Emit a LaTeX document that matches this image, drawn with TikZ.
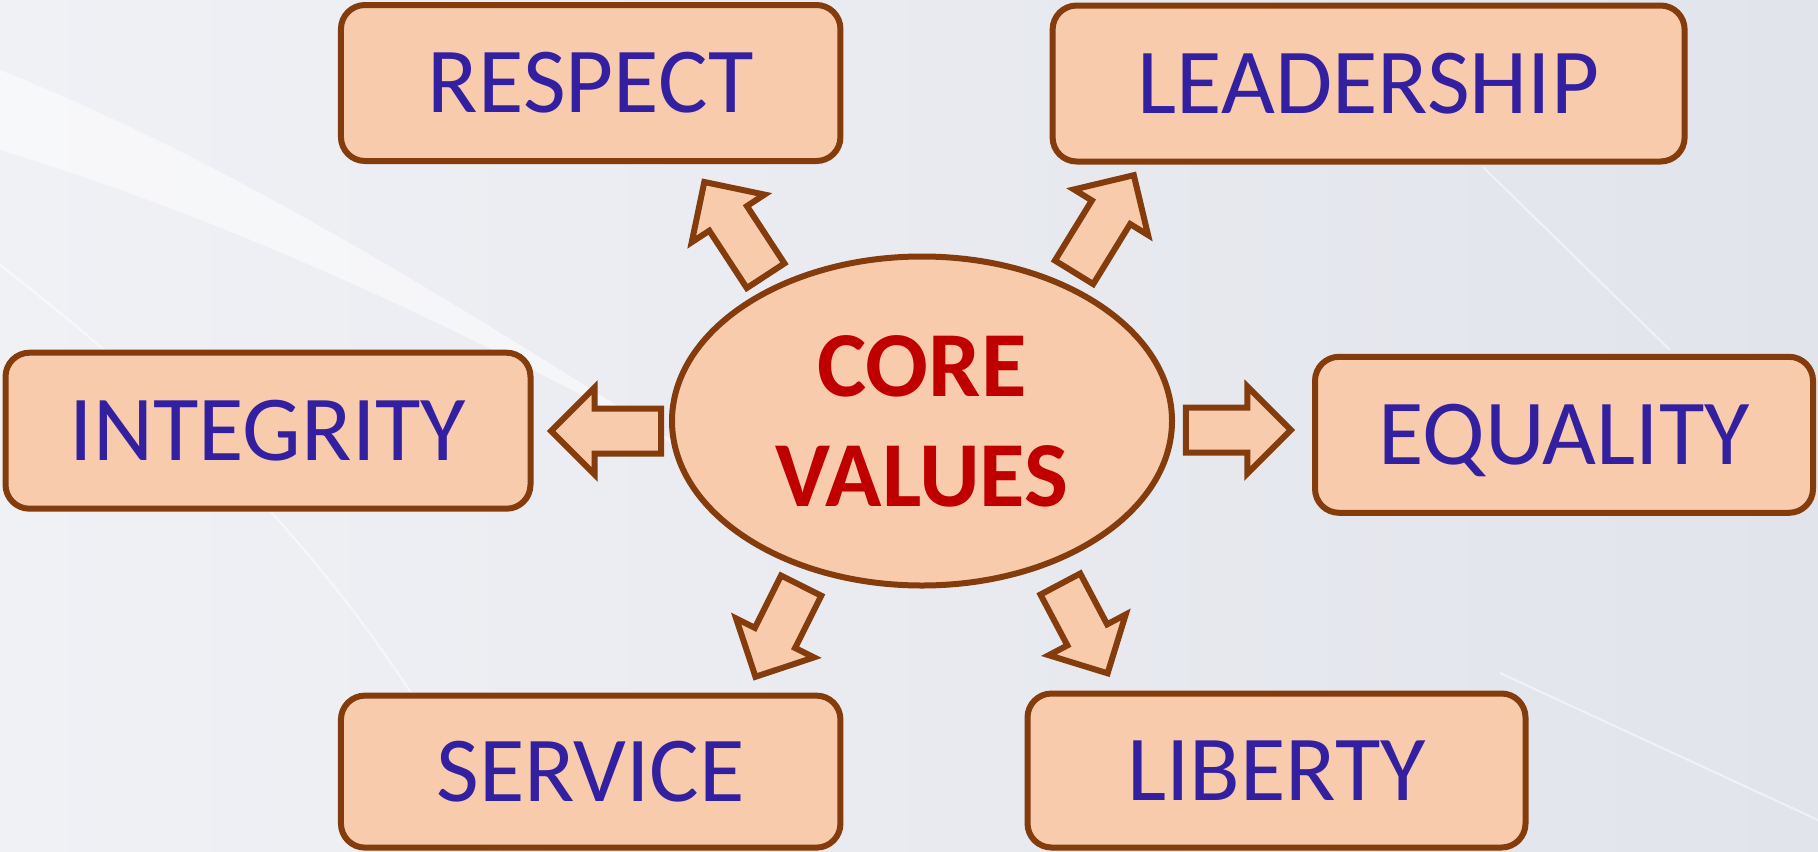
\documentclass[tikz,border=0pt]{standalone}
\usepackage{fontspec}
\setmainfont{Carlito}
\usetikzlibrary{shapes.geometric,shapes.arrows}
\definecolor{peach}{HTML}{F8CBAD}
\definecolor{rust}{HTML}{843C0C}
\definecolor{valblue}{HTML}{3320A0}
\definecolor{corered}{HTML}{C00000}
\definecolor{bgleft}{HTML}{F0F1F5}
\definecolor{bgright}{HTML}{E1E4EB}

\begin{document}
\begin{tikzpicture}[x=0.5pt,y=-0.5pt,
		valuebox/.style={rectangle,rounded corners=12pt,draw=rust,fill=peach,line width=3pt,
			text=valblue,font=\fontsize{46.5}{55}\selectfont,text height=29.5pt,text depth=0pt,
			minimum height=78pt,inner sep=0pt},
		hub/.style={ellipse,draw=rust,fill=peach,line width=3pt,text=corered,
			font=\bfseries\fontsize{46.5}{55}\selectfont,align=center,
			minimum width=250pt,minimum height=164.5pt,inner sep=0pt},
		blockarrow/.style={single arrow,draw=rust,fill=peach,line width=3pt,anchor=tip,
			outer sep=0pt,inner sep=9.75pt,single arrow head extend=10.5pt}]
		\useasboundingbox (0,0) rectangle (1818,851);

		% background
		\shade[left color=bgleft,right color=bgright] (0,0) rectangle (1818,851);
		\fill[white,opacity=.5] (0,70) .. controls (250,170) and (480,320) .. (720,470)
			.. controls (470,330) and (230,220) .. (0,150) -- cycle;
		\draw[white,line width=1pt,opacity=.5] (0,265) .. controls (200,420) and (380,600) .. (500,851);
		\draw[white,line width=1pt,opacity=.5] (1483,167) -- (1670,350);
		\draw[white,line width=1pt,opacity=.5] (1500,673) -- (1818,820);

		\node[hub] (core) at (922,421) {CORE\\VALUES};
		\node[valuebox,minimum width=249.75pt] (respect) at (590.7,83) {RESPECT};
		\node[valuebox,minimum width=316pt] (leadership) at (1368.6,83.5) {LEADERSHIP};
		\node[valuebox,minimum width=262.5pt] (integrity) at (268,430.7) {INTEGRITY};
		\node[valuebox,minimum width=249pt] (equality) at (1564,434.8) {EQUALITY};
		\node[valuebox,minimum width=249.75pt,minimum height=76pt] (service) at (590.7,771.6) {SERVICE};
		\node[valuebox,minimum width=249pt,minimum height=77pt] (liberty) at (1276.5,770.5) {LIBERTY};

		% connection
		\node[blockarrow,rotate=123.2,minimum height=56pt] (toRespect) at (704.3,182) {};
		\node[blockarrow,rotate=58.4,minimum height=57pt] (toLeadership) at (1133.8,175.2) {};
		\node[blockarrow,rotate=180,minimum height=55pt] (toIntegrity) at (551.2,431) {};
		\node[blockarrow,minimum height=52.5pt] (toEquality) at (1290.8,430) {};
		\node[blockarrow,rotate=-116.6,minimum height=51pt] (toService) at (755.5,676.8) {};
		\node[blockarrow,rotate=-62.1,minimum height=50.5pt] (toLiberty) at (1107.6,673.3) {};
	\end{tikzpicture}
\end{document}
